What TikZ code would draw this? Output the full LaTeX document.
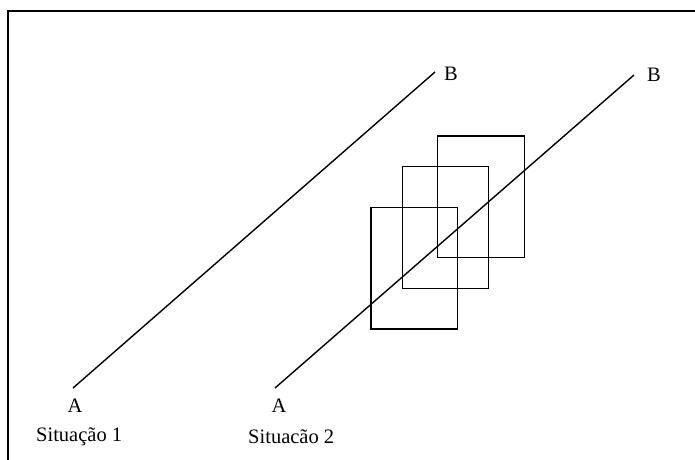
\documentclass[tikz,border=0pt]{standalone}
\usepackage{fontspec}
\setmainfont{Liberation Serif}
\begin{document}
\begin{tikzpicture}[x=1pt,y=-1pt,
  seg/.style={line width=1.4pt},
  card/.style={draw,line width=1.5pt,fill=none},
  lbl/.style={font=\fontsize{20.5}{24}\selectfont,inner sep=0pt}]
\useasboundingbox (0,0) rectangle (695,459);
\draw[line width=1.6pt] (8,470) -- (8,11) -- (705,11);
% line 1
\coordinate (a1) at (73,388);
\coordinate (b1) at (435,72);
\draw[seg] (a1) -- (b1);
\node[lbl] (la1) at (75,406) {A};
\node[lbl] (lb1) at (451,74) {B};
% line 2
\coordinate (a2) at (275,388);
\coordinate (b2) at (634,75);
\node[lbl] (la2) at (279,406) {A};
\node[lbl] (lb2) at (654,75) {B};
% rectangles
\draw[card] (437.7,136) rectangle (524.3,257.7);
\draw[card] (402.3,166.7) rectangle (488.7,288.3);
\draw[card] (371,207.3) rectangle (457.3,329);
\draw[seg] (a2) -- (b2);
\node[lbl,anchor=west] (s1) at (36,437) {Situação 1};
\node[lbl,anchor=west] (s2) at (248,437) {Situacão 2};
\end{tikzpicture}
\end{document}
